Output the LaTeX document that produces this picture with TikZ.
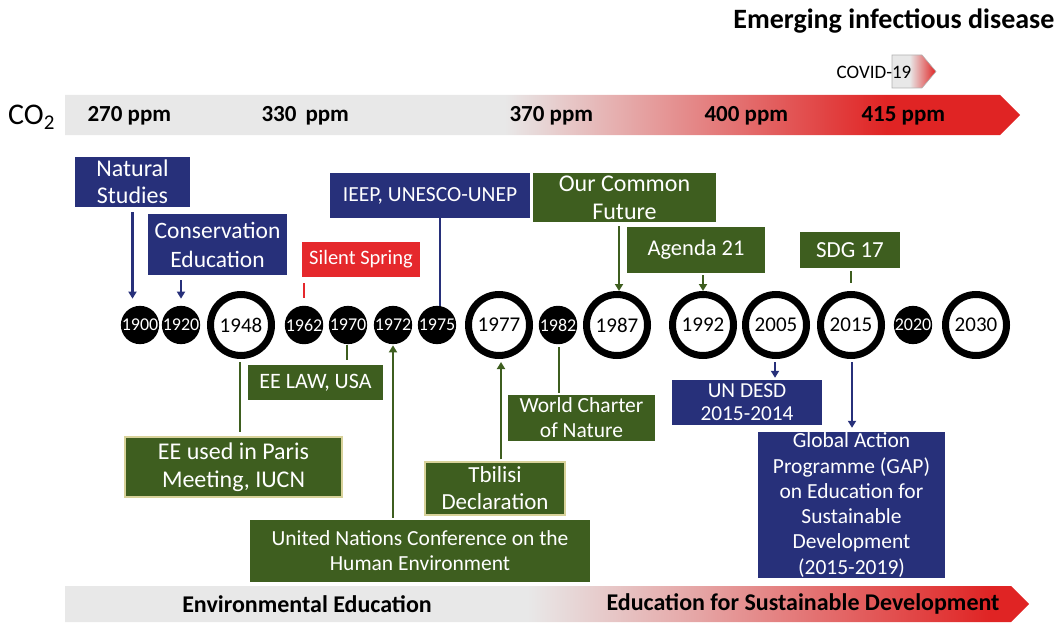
\documentclass[tikz,border=0pt]{standalone}
\usepackage{fontspec}
\setmainfont{Carlito}
\usetikzlibrary{arrows.meta}

\definecolor{navy}{HTML}{27307A}
\definecolor{olive}{HTML}{3E5E1F}
\definecolor{alert}{HTML}{E5282C}
\definecolor{barred}{HTML}{E02424}
\definecolor{bargray}{HTML}{E8E8E8}
\definecolor{paleedge}{HTML}{D8D29A}

% shadings: the path's bounding box spans 25bp..75bp
\pgfdeclarehorizontalshading{co2shade}{100bp}{color(0bp)=(bargray); color(48bp)=(bargray); color(56bp)=(barred!40!bargray); color(68bp)=(barred); color(100bp)=(barred)}
\pgfdeclarehorizontalshading{edushade}{100bp}{color(0bp)=(bargray); color(49bp)=(bargray); color(58bp)=(barred!35!bargray); color(73bp)=(barred); color(100bp)=(barred)}
\pgfdeclarehorizontalshading{covshade}{100bp}{color(0bp)=(bargray); color(45bp)=(bargray); color(75bp)=(barred); color(100bp)=(barred)}

\tikzset{
  fs/.style 2 args={font=\fontsize{#1}{#2}\selectfont},
  wh/.style 2 args={minimum width=#1pt, minimum height=#2pt},
  box/.style={inner sep=0pt, align=center, text=white},
  bluebox/.style={box, fill=navy},
  greenbox/.style={box, fill=olive},
  paleframe/.style={draw=paleedge, line width=1.2pt},
  dot/.style={circle, fill=black, minimum size=38pt, inner sep=0pt, text=white,
              font=\fontsize{18}{18}\selectfont},
  ring/.style={circle, draw=black, fill=white, line width=7pt, minimum size=61pt,
               inner sep=0pt, font=\fontsize{21}{21}\selectfont},
  tip/.tip={Triangle[width=8pt,length=7pt]},
  bline/.style={draw=navy, line width=2.8pt},
  gline/.style={draw=olive, line width=2.8pt},
  rline/.style={draw=alert, line width=2.8pt},
  barlabel/.style={anchor=west, font=\bfseries\fontsize{23}{23}\selectfont},
  barcaption/.style={font=\bfseries\fontsize{24}{24}\selectfont},
}

\begin{document}
\begin{tikzpicture}[x=1pt, y=-1pt]
\useasboundingbox (0,0) rectangle (1064,623);

% heading and COVID marker
\node[anchor=base east, font=\bfseries\fontsize{28}{28}\selectfont] (emerging) at (1058,29) {Emerging infectious disease};
\shade[shading=covshade, draw=gray!60, line width=0.6pt] (892,55) -- (922,55) -- (936,71.5) -- (922,88) -- (892,88) -- cycle;
\node[font=\fontsize{19}{19}\selectfont] (covid) at (874,72) {COVID-19};

% CO2 bar
\node[anchor=west, inner sep=0pt, font=\fontsize{30}{30}\selectfont] (co2) at (8,117) {CO\textsubscript{2}};
\shade[shading=co2shade] (65,95) -- (1000,95) -- (1020,115) -- (1000,135) -- (65,135) -- cycle;
\node[barlabel] (p270) at (84,116) {270 ppm};
\node[barlabel] (p330) at (258,116) {330\, ppm};
\node[barlabel] (p370) at (506,116) {370 ppm};
\node[barlabel] (p400) at (701,116) {400 ppm};
\node[barlabel] (p415) at (858,116) {415 ppm};

% timeline
\node[dot]  (y1900) at (140,325) {1900};
\node[dot]  (y1920) at (181,325) {1920};
\node[ring] (y1948) at (241,325) {1948};
\node[dot]  (y1962) at (304,325) {1962};
\node[dot]  (y1970) at (348,325) {1970};
\node[dot]  (y1972) at (393,325) {1972};
\node[dot]  (y1975) at (437,325) {1975};
\node[ring] (y1977) at (499,325) {1977};
\node[dot]  (y1982) at (558,325) {1982};
\node[ring] (y1987) at (617,325) {1987};
\node[ring] (y1992) at (703,325) {1992};
\node[ring] (y2005) at (776,325) {2005};
\node[ring] (y2015) at (851,325) {2015};
\node[dot]  (y2020) at (913,325) {2020};
\node[ring] (y2030) at (976,325) {2030};

% events above the timeline
\node[bluebox, wh={115}{50}, fs={24}{27}]  (nat)    at (132.5,182)  {Natural\\Studies};
\node[bluebox, wh={139}{61}, fs={23.5}{29}] (cons)  at (217.5,244.5){Conservation\\Education};
\node[box, fill=alert, wh={118}{35}, fs={20.5}{22}] (silent) at (361,259.5) {Silent Spring};
\node[bluebox, wh={200}{45}, fs={21.5}{24}]  (ieep)   at (430,195.5)  {IEEP, UNESCO-UNEP};
\node[greenbox, wh={183}{49}, fs={24}{28}] (ocf)    at (624.5,197.5){Our Common\\Future};
\node[greenbox, wh={138}{46}, fs={22.5}{26}] (ag21)   at (696,250)    {Agenda 21};
\node[greenbox, wh={100}{36}, fs={23}{24}] (sdg)    at (850,250)    {SDG 17};

% events below the timeline
\node[greenbox, wh={135}{35}, fs={22}{24}] (law)    at (315.5,382.5){EE LAW, USA};
\node[greenbox, paleframe, wh={217}{60}, fs={24}{28}] (paris) at (233.5,467) {EE used in Paris\\Meeting, IUCN};
\node[greenbox, paleframe, wh={140}{53}, fs={23}{27}] (tbilisi) at (495,488.5) {Tbilisi\\Declaration};
\node[greenbox, wh={147}{46}, fs={21.5}{25}] (wcn)    at (581.5,418)  {World Charter\\of Nature};
\node[greenbox, wh={340}{62}, fs={21.5}{25}] (unch)   at (420,551)    {United Nations Conference on the\\Human Environment};
\node[bluebox, wh={150}{45}, fs={21.3}{23}]  (desd)   at (747,402.5)  {UN DESD\\2015-2014};
\node[bluebox, wh={187}{146}, fs={21.5}{25.3}] (gap) at (851.5,505)
  {Global Action\\Programme (GAP)\\on Education for\\Sustainable\\Development\\(2015-2019)};

% connectors above
\draw[bline, -tip] ([yshift=-5pt]nat.south) -- ([yshift=7pt]nat.south |- y1900.north);
\draw[bline, -tip] ([yshift=-5pt]cons.south -| y1920) -- ([yshift=7pt]y1920.north);
\draw[rline] ([yshift=-6pt]silent.south -| y1962) -- ([yshift=8pt]y1962.north);
\draw[bline] ([xshift=3pt]ieep.south -| y1975) -- ([xshift=3pt]y1975.north);
\draw[gline, -tip] ([xshift=2pt,yshift=-4pt]ocf.south -| y1987) -- ([xshift=2pt]y1987.north);
\draw[gline, -tip] ([yshift=-2pt]ag21.south -| y1992) -- (y1992.north);
\draw[gline] ([yshift=-3pt]sdg.south -| y2015) -- ([yshift=8pt]y2015.north);

% connectors below
\draw[gline] ([xshift=-1pt,yshift=-1pt]y1970.south) -- ([xshift=-1pt,yshift=5pt]y1970.south |- law.north);
\draw[gline] ([xshift=-1pt,yshift=-3pt]y1948.south) -- ([xshift=-1pt,yshift=4pt]y1948.south |- paris.north);
\draw[gline, -tip] ([yshift=2pt]unch.north -| y1972) -- ([yshift=-1pt]y1972.south);
\draw[gline, -tip] ([xshift=2pt,yshift=2pt]tbilisi.north -| y1977) -- ([xshift=2pt,yshift=-3pt]y1977.south);
\draw[gline] ([xshift=1pt,yshift=-3pt]y1982.south) -- ([xshift=1pt,yshift=2pt]y1982.south |- wcn.north);
\draw[bline, -tip] ([xshift=-1pt,yshift=-3pt]y2005.south) -- ([xshift=-1pt,yshift=2pt]y2005.south |- desd.north);
\draw[bline, -tip] ([xshift=1pt,yshift=-3pt]y2015.south) -- ([xshift=1pt,yshift=4pt]y2015.south |- gap.north);

% education bar
\shade[shading=edushade] (65,586) -- (1011,586) -- (1029,604) -- (1011,622) -- (65,622) -- cycle;
\node[barcaption] (ee)  at (307,604) {Environmental Education};
\node[barcaption] (esd) at (803,604) {Education for Sustainable Development};
\end{tikzpicture}
\end{document}
